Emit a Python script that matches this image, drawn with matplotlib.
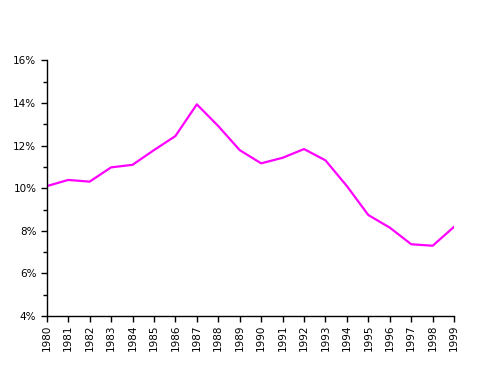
import matplotlib
matplotlib.use("Agg")
import matplotlib.pyplot as plt
from matplotlib.ticker import FuncFormatter, MultipleLocator

years = [str(y) for y in range(1980, 2000)]
rates = [10.10, 10.39, 10.31, 10.98, 11.10, 11.79, 12.45, 13.94, 12.92, 11.79,
         11.17, 11.43, 11.84, 11.31, 10.10, 8.74, 8.15, 7.37, 7.30, 8.19]

fig = plt.figure(figsize=(4.92, 3.69), dpi=100)
ax = fig.add_axes([0.095, 0.1436, 0.828, 0.6925])
x = list(range(len(years)))
ax.plot(x, rates, color="#FF00FF", linewidth=1.6)
ax.set_xlim(0, len(years) - 1)
ax.set_ylim(4, 16)
ax.set_xticks(x)
ax.set_xticklabels(years, rotation=90, fontsize=7.5)
ax.yaxis.set_major_locator(MultipleLocator(2))
ax.yaxis.set_minor_locator(MultipleLocator(1))
ax.yaxis.set_major_formatter(FuncFormatter(lambda v, p: f"{v:.0f}%"))
ax.tick_params(axis="y", labelsize=7.5, length=4, width=1)
ax.tick_params(axis="y", which="minor", length=3, width=1)
ax.tick_params(axis="x", length=4, width=1, pad=2)
for s in ["top", "right"]:
    ax.spines[s].set_visible(False)
for s in ["left", "bottom"]:
    ax.spines[s].set_linewidth(1)
fig.savefig("out.png", dpi=100)
